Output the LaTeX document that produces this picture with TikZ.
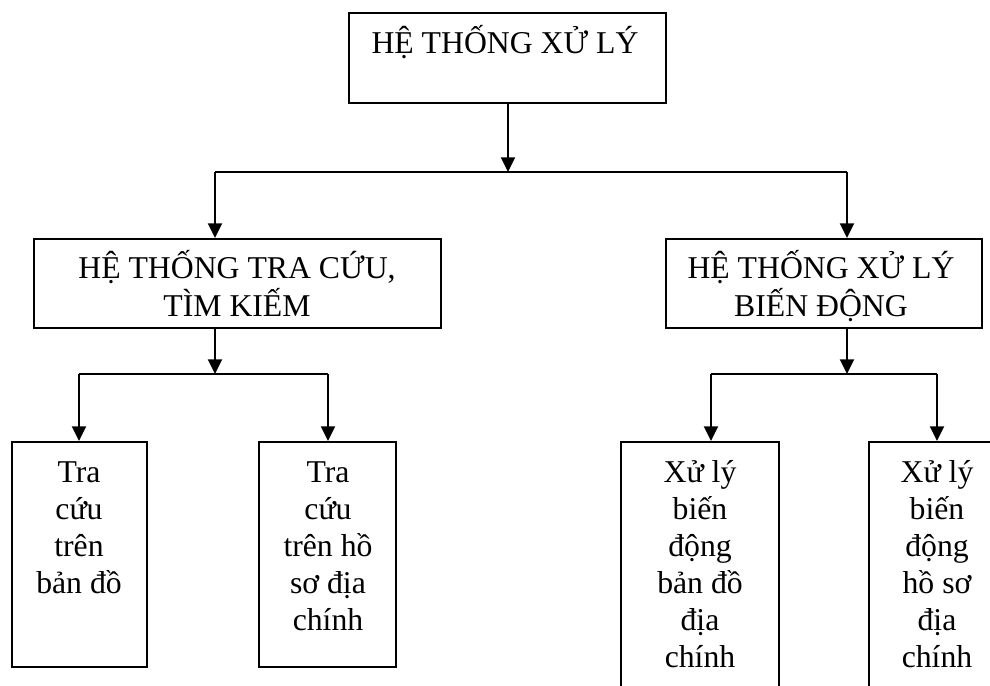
\documentclass[tikz,border=0pt]{standalone}
\usepackage{fontspec}
\setmainfont{Liberation Serif}
\usetikzlibrary{arrows.meta,fit}
\newcommand{\firstline}{\rule{0pt}{24pt}}
\begin{document}
\begin{tikzpicture}[x=0.75pt,y=-0.75pt,
  box/.style={draw,line width=1.5pt,inner sep=0pt},
  lbl/.style={inner sep=0pt,anchor=north,yshift=24pt,align=center,
    font=\fontsize{23.8}{27.8}\selectfont},
  lblwide/.style={lbl,font=\fontsize{23.8}{29}\selectfont},
  wire/.style={line width=1.5pt},
  arr/.style={line width=1.5pt,-{Triangle[length=11pt,width=10.5pt]}}
]
\useasboundingbox (0,0) rectangle (990,686);
\fill[white] (0,0) rectangle (990,686);
\clip (0,0) rectangle (990,686);

% boxes
\node[box,fit={(349,13) (666,103)}] (top) {};
\node[box,fit={(34,239) (441,328)}] (srch) {};
\node[box,fit={(666,239) (982,328)}] (chg) {};
\node[box,fit={(12,442) (147,667)}] (b1) {};
\node[box,fit={(259,442) (396,667)}] (b2) {};
\node[box,fit={(621,442) (779,720)}] (b3) {};
\node[box,fit={(869,442) (1005,720)}] (b4) {};

% texts
\node[lbl] (ttop) at (505,53) {\firstline HỆ THỐNG XỬ LÝ};
\node[lblwide] (tsrch) at (237,278) {\firstline HỆ THỐNG TRA CỨU,\\TÌM KIẾM};
\node[lblwide] (tchg) at (821,278) {\firstline HỆ THỐNG XỬ LÝ\\BIẾN ĐỘNG};
\node[lbl] (tb1) at (79,482) {\firstline Tra\\cứu\\trên\\bản đồ};
\node[lbl] (tb2) at (328,482) {\firstline Tra\\cứu\\trên hồ\\sơ địa\\chính};
\node[lbl] (tb3) at (700,482) {\firstline Xử lý\\biến\\động\\bản đồ\\địa\\chính};
\node[lbl] (tb4) at (937,482) {\firstline Xử lý\\biến\\động\\hồ sơ\\địa\\chính};

% junction points
\coordinate (j0) at (508,172);
\coordinate (jL) at (215,172);
\coordinate (jR) at (847,172);
\coordinate (sL) at (215,374);
\coordinate (sR) at (847,374);
\coordinate (k1) at (79,374);
\coordinate (k2) at (328,374);
\coordinate (k3) at (711,374);
\coordinate (k4) at (937,374);

% first level
\draw[arr] (top.south -| j0) -- (j0);
\draw[wire] (jL) -- (jR);
\draw[arr] (jL) -- (jL |- srch.north);
\draw[arr] (jR) -- (jR |- chg.north);

% second level, left
\draw[arr] (sL |- srch.south) -- (sL);
\draw[wire] (k1) -- (k2);
\draw[arr] (k1) -- (k1 |- b1.north);
\draw[arr] (k2) -- (k2 |- b2.north);

% second level, right
\draw[arr] (sR |- chg.south) -- (sR);
\draw[wire] (k3) -- (k4);
\draw[arr] (k3) -- (k3 |- b3.north);
\draw[arr] (k4) -- (k4 |- b4.north);
\end{tikzpicture}
\end{document}
